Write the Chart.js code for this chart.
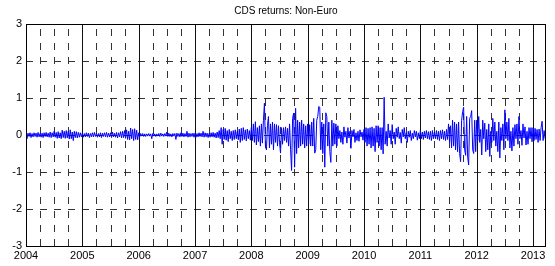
<!DOCTYPE html>
<html>
<head>
<meta charset="utf-8">
<script src="https://cdn.jsdelivr.net/npm/chart.js@4.4.1/dist/chart.umd.min.js"></script>
<style>
  html, body { margin: 0; padding: 0; background: #fff; }
</style>
</head>
<body>
<canvas id="c" width="555" height="266"></canvas>
<script>
// CDS returns (Non-Euro) at ~1 px steps (56 per year)
const r2004 = [0.03,-0.1,0.05,-0.04,0.06,-0.07,0.04,-0.05,0.06,-0.04, 0.05,-0.06,0.07,-0.05,0.04,-0.06,0.05,-0.07,0.06,-0.04,
               0.07,-0.05,0.05,-0.06,0.08,-0.07,0.06,-0.05,0.1,-0.06, 0.07,-0.09,0.09,-0.08,0.06,-0.1,0.13,-0.07,0.1,-0.09,
               0.12,-0.08,0.1,-0.11,0.14,-0.1,0.08,-0.15,0.1,-0.07, 0.09,-0.08,0.07,-0.06,0.06,-0.05];
const r2005 = [0.05,-0.06,0.04,-0.05,0.06,-0.04,0.05,-0.07,0.04,-0.05, 0.06,-0.05,0.07,-0.04,0.05,-0.06,0.04,-0.05,0.06,-0.07,
               0.05,-0.04,0.06,-0.05,0.07,-0.06,0.05,-0.05,0.06,-0.07, 0.08,-0.05,0.05,-0.06,0.07,-0.08,0.06,-0.05,0.09,-0.08,
               0.1,-0.07,0.12,-0.09,0.14,-0.12,0.1,-0.13,0.19,-0.1, 0.15,-0.15,0.17,-0.12,0.13,-0.13];
const r2006 = [0.06,-0.05,0.04,-0.03,0.04,-0.04,0.03,-0.04,0.03,-0.03, 0.04,-0.03,0.03,-0.1,0.04,-0.03,0.03,-0.04,0.03,-0.03,
               0.04,-0.04,0.05,-0.03,0.03,-0.04,0.04,-0.03,0.08,-0.04, 0.05,-0.04,0.03,-0.05,0.04,-0.03,0.04,-0.12,0.05,-0.04,
               0.04,-0.05,0.06,-0.04,0.05,-0.05,0.04,-0.04,0.1,-0.06, 0.05,-0.05,0.04,-0.04,0.05,-0.06];
const r2007 = [0.05,-0.06,0.04,-0.05,0.06,-0.04,0.05,-0.05,0.1,-0.06, 0.06,-0.05,0.05,-0.07,0.04,-0.06,0.06,-0.05,0.07,-0.06,
               0.05,-0.08,0.08,-0.07,0.12,-0.1,0.2,-0.25,0.15,-0.12, 0.18,-0.14,0.12,-0.18,0.15,-0.1,0.1,-0.15,0.12,-0.12,
               0.14,-0.1,0.1,-0.13,0.16,-0.2,0.18,-0.15,0.2,-0.12, 0.14,-0.16,0.16,-0.1,0.12,-0.14];
const r2008 = [0.2,-0.15,0.3,-0.2,0.36,-0.27,0.2,-0.18,0.25,-0.3, 0.3,-0.22,0.4,0.86,-0.3,-0.4,0.25,0.5,-0.35,0.3,
               -0.25,0.35,-0.4,0.3,-0.2,0.28,-0.3,0.25,-0.2,-0.49, 0.2,-0.25,0.2,-0.15,0.22,-0.2,0.18,-0.3,0.3,-0.4,
               -0.96,0.45,0.59,-0.87,0.72,-0.5,0.4,-0.35,0.35,-0.3, 0.4,-0.25,0.3,-0.35,0.25,-0.3];
const r2009 = [0.3,-0.25,0.28,-0.3,0.35,-0.3,0.45,-0.49,-0.4,0.4, 0.5,0.77,0.75,-0.4,0.35,-0.5,0.3,-0.87,0.6,0.5,
               -0.3,0.35,-0.45,-0.74,0.4,-0.3,0.32,-0.25,0.3,-0.3, 0.25,-0.1,0.12,-0.2,0.08,-0.25,0.22,-0.06,0.1,-0.22,
               0.2,-0.08,0.1,-0.36,0.12,-0.05,0.15,-0.2,0.06,-0.15, 0.1,-0.17,0.14,-0.05,0.08,-0.14];
const r2010 = [0.15,-0.2,0.2,-0.3,0.18,-0.25,0.2,-0.35,0.22,-0.3, 0.18,-0.45,0.25,-0.2,0.25,-0.3,0.2,-0.4,0.2,-0.51,
               1.02,-0.25,0.1,-0.3,0.3,-0.08,0.12,-0.25,0.28,-0.1, 0.08,-0.25,0.18,-0.06,0.22,-0.1,0.07,-0.22,0.15,-0.05,
               0.2,-0.1,0.06,-0.2,0.1,-0.06,0.12,-0.15,0.05,-0.1, 0.12,-0.05,0.1,-0.14,0.06,-0.1];
const r2011 = [0.12,-0.1,0.08,-0.12,0.1,-0.08,0.12,-0.1,0.09,-0.12, 0.1,-0.15,0.12,-0.1,0.08,-0.1,0.12,-0.12,0.1,-0.15,
               0.12,-0.1,0.14,-0.12,0.1,-0.15,0.15,-0.12,0.3,-0.2, 0.25,-0.35,0.4,-0.3,0.35,-0.4,0.3,-0.45,0.35,-0.5,
               -0.72,0.4,0.63,0.75,-0.4,-0.55,0.5,-0.6,-0.81,0.45, 0.5,0.66,-0.4,-0.5,0.4,-0.45];
const r2012 = [0.4,-0.15,0.5,-0.2,0.15,-0.54,0.4,-0.1,0.32,-0.45, 0.15,-0.4,0.3,-0.58,0.1,-0.2,0.45,-0.15,0.35,-0.3,
               0.1,-0.45,0.35,-0.62,0.2,-0.15,0.3,-0.4,0.68,-0.1, 0.35,-0.15,0.45,-0.35,0.1,-0.43,0.2,-0.3,0.28,-0.1,
               0.3,-0.25,0.5,-0.1,0.12,-0.28,0.3,-0.08,0.22,-0.27, 0.1,-0.25,0.2,-0.1,0.2,-0.18];
const r2013 = [0.2,-0.15,0.18,-0.12,0.15,-0.2,0.16,-0.15,0.2,0.37,-0.15,0.12,-0.1];

const years      = [2004, 2005, 2006, 2007, 2008, 2009, 2010, 2011, 2012, 2013];
const yearly     = [r2004, r2005, r2006, r2007, r2008, r2009, r2010, r2011, r2012, r2013];
const yearTicks  = [2004, 2005, 2006, 2007, 2008, 2009, 2010, 2011, 2012, 2013];
const yTicks     = [-3, -2, -1, 0, 1, 2, 3];
const xMin = 2004, xMax = 2013.23;
const STEPS = 56;

const points = [];
years.forEach((yr, i) => {
  const arr = yearly[i];
  const n = i < years.length - 1 ? arr.length : STEPS;
  arr.forEach((v, k) => points.push({ x: yr + k / n, y: v }));
});

const FONT = 'Arial, "Liberation Sans", Helvetica, sans-serif';

const matlabAxes = {
  id: 'matlabAxes',
  beforeDatasetsDraw(chart) {
    const { ctx, chartArea: a, scales: { x, y } } = chart;
    ctx.save();
    ctx.lineWidth = 1;
    ctx.strokeStyle = '#333';
    ctx.setLineDash([7, 7]);
    // horizontal dashed grid at integer values
    yTicks.filter(v => v > -3 && v < 3).forEach(v => {
      const py = Math.round(y.getPixelForValue(v)) + 0.5;
      ctx.beginPath(); ctx.moveTo(a.left, py); ctx.lineTo(a.right, py); ctx.stroke();
    });
    // quarter lines, dashed, drawn bottom-up
    yearTicks.forEach(yr => {
      [0.25, 0.5, 0.75].forEach(q => {
        if (yr + q >= xMax) return;
        const px = Math.round(x.getPixelForValue(yr + q)) + 0.5;
        ctx.beginPath(); ctx.moveTo(px, a.bottom); ctx.lineTo(px, a.top); ctx.stroke();
      });
    });
    // year lines, solid
    ctx.setLineDash([]);
    ctx.strokeStyle = '#111';
    yearTicks.slice(1).forEach(yr => {
      const px = Math.round(x.getPixelForValue(yr)) + 0.5;
      ctx.beginPath(); ctx.moveTo(px, a.bottom); ctx.lineTo(px, a.top); ctx.stroke();
    });
    ctx.restore();
  },
  afterDraw(chart) {
    const { ctx, chartArea: a } = chart;
    ctx.save();
    ctx.strokeStyle = '#000';
    ctx.lineWidth = 1;
    ctx.strokeRect(Math.round(a.left) + 0.5, Math.round(a.top) + 0.5,
                   Math.round(a.right - a.left) - 1, Math.round(a.bottom - a.top));
    ctx.fillStyle = '#000';
    ctx.font = '10px ' + FONT;
    ctx.textAlign = 'center';
    ctx.textBaseline = 'middle';
    ctx.fillText('CDS returns: Non-Euro', (a.left + a.right) / 2, 11);
    ctx.restore();
  }
};

new Chart(document.getElementById('c'), {
  type: 'line',
  data: {
    datasets: [{
      data: points,
      borderColor: '#0000ff',
      borderWidth: 1,
      pointRadius: 0,
      tension: 0,
      fill: false
    }]
  },
  options: {
    responsive: false,
    animation: false,
    layout: { padding: { top: 24, right: 9, left: 0, bottom: 0 } },
    plugins: { legend: { display: false }, tooltip: { enabled: false }, title: { display: false } },
    scales: {
      x: {
        type: 'linear',
        min: xMin,
        max: xMax,
        grid: { display: false, drawTicks: false },
        border: { display: false },
        afterBuildTicks: s => { s.ticks = yearTicks.map(v => ({ value: v })); },
        afterFit: s => { s.height = 20; },
        ticks: {
          color: '#000',
          font: { family: FONT, size: 11 },
          padding: 3,
          maxRotation: 0,
          autoSkip: false,
          callback: v => String(v)
        }
      },
      y: {
        min: -3,
        max: 3,
        grid: { display: false, drawTicks: false },
        border: { display: false },
        afterBuildTicks: s => { s.ticks = yTicks.map(v => ({ value: v })); },
        afterFit: s => { s.width = 26; },
        ticks: {
          color: '#000',
          font: { family: FONT, size: 11 },
          padding: 4,
          callback: v => String(v)
        }
      }
    }
  },
  plugins: [matlabAxes]
});
</script>
</body>
</html>
